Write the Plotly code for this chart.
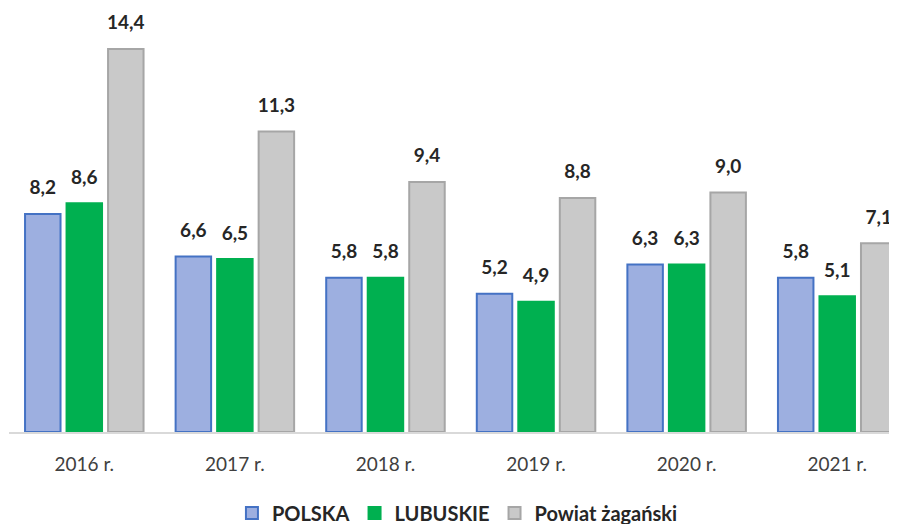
import plotly.graph_objects as go

categories = ["2016 r.", "2017 r.", "2018 r.", "2019 r.", "2020 r.", "2021 r."]
polska = [8.2, 6.6, 5.8, 5.2, 6.3, 5.8]
lubuskie = [8.6, 6.5, 5.8, 4.9, 6.3, 5.1]
powiat = [14.4, 11.3, 9.4, 8.8, 9.0, 7.1]

def fmt(vals):
    return [f"{v:.1f}".replace(".", ",") for v in vals]

series = [
    ("POLSKA", polska, "#9DAFE0", "#4472C4"),
    ("LUBUSKIE", lubuskie, "#00B050", "#00B050"),
    ("Powiat żagański", powiat, "#C9C9C9", "#A6A6A6"),
]

BARGAP = 0.173

fig = go.Figure()
for name, vals, fill, line in series:
    fig.add_trace(go.Bar(
        x=categories, y=vals, name=name,
        marker=dict(color=fill, line=dict(color=line, width=2)),
    ))
for name, vals, fill, line in series:
    fig.add_trace(go.Scatter(
        x=categories, y=vals, mode="markers+text", showlegend=False,
        marker=dict(size=22, opacity=0), text=fmt(vals),
        textposition="top center", cliponaxis=False, hoverinfo="skip",
        textfont=dict(family="Lato", size=19, color="#262626", weight="bold"),
    ))

# the page body has an 8px margin, so the figure is sized to fit the window
fig.update_layout(
    width=889, height=516,
    margin=dict(l=1, r=0, t=0, b=92),
    paper_bgcolor="white", plot_bgcolor="white",
    barmode="group", bargap=BARGAP, bargroupgap=0.145,
    scattermode="group", scattergap=BARGAP,
    showlegend=True,
    legend=dict(orientation="h", x=0.505, xanchor="center", yref="container", y=0.0213, yanchor="middle",
                font=dict(family="Lato", size=20, color="#262626", weight="bold"),
                itemwidth=30, traceorder="normal"),
    xaxis=dict(range=[-0.5, 5.397], showline=True, linecolor="#D9D9D9", linewidth=2,
               automargin=False, ticks="", ticklabelstandoff=14,
               tickfont=dict(family="Lato", size=19, color="#404040")),
    yaxis=dict(range=[0, 15.94], visible=False, showgrid=False, automargin=False),
)
fig.write_html("out.html")
